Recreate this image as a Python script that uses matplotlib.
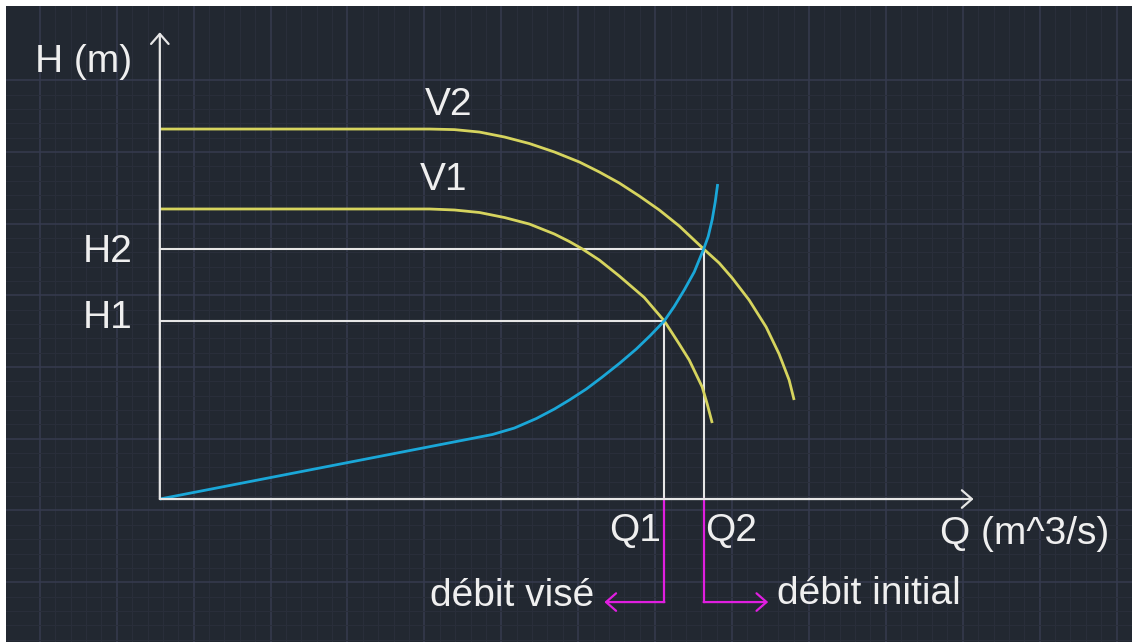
import numpy as np
import matplotlib
matplotlib.use("Agg")
import matplotlib.pyplot as plt

plt.rcParams['font.family'] = ['Liberation Sans', 'DejaVu Sans']

# ---------------- données ----------------
# courbes des pompes (vitesse V1 et V2) : débit Q / hauteur H
q_v2 = [0.000, 3.506, 3.831, 4.156, 4.481, 4.805, 5.130, 5.455, 5.714, 5.974, 6.234,
        6.494, 6.753, 7.071, 7.273, 7.442, 7.662, 7.883, 8.052, 8.182, 8.247]
h_v2 = [5.160, 5.160, 5.152, 5.118, 5.049, 4.958, 4.840, 4.700, 4.561, 4.407, 4.226,
        4.031, 3.808, 3.487, 3.291, 3.082, 2.775, 2.399, 2.022, 1.660, 1.381]

q_v1 = [0.000, 3.506, 3.831, 4.156, 4.481, 4.805, 5.130, 5.325, 5.494, 5.714, 5.974,
        6.299, 6.560, 6.753, 6.883, 7.052, 7.117, 7.182]
h_v1 = [4.045, 4.045, 4.031, 3.996, 3.926, 3.835, 3.696, 3.591, 3.487, 3.333, 3.110,
        2.810, 2.483, 2.162, 1.939, 1.562, 1.325, 1.060]

# courbe du réseau
q_res = [0.000, 4.325, 4.610, 4.896, 5.130, 5.325, 5.545, 5.753, 5.974, 6.195,
         6.377, 6.558, 6.688, 6.818, 6.948, 7.071, 7.130, 7.182, 7.221, 7.253]
h_res = [0.000, 0.900, 0.990, 1.123, 1.255, 1.381, 1.534, 1.702, 1.890, 2.092,
         2.280, 2.483, 2.685, 2.915, 3.166, 3.487, 3.661, 3.898, 4.142, 4.393]

# points de fonctionnement
Q1, Q2 = 6.56, 7.07
H1, H2 = 2.48, 3.49

# ---------------- style ----------------
BG = '#222831'
GRID_MAJ = '#363b4f'
GRID_MIN = '#2a2f3b'
YELLOW = '#d6d45e'
BLUE = '#1aa7d8'
WHITE = '#e6e6e6'
MAGENTA = '#e01ee0'
TXT = '#efefef'
FS = 28

fig = plt.figure(figsize=(11.32, 6.42), dpi=100, facecolor='white')
ax = fig.add_axes([6 / 1132, 0, 1126 / 1132, 636 / 642])
ax.set_facecolor(BG)
ax.set_xlim(-2.0, 12.62)
ax.set_ylim(-1.994, 6.876)

# grille de fond type CAO
ax.set_xticks(np.arange(-1.56, 12.7, 1.0))
ax.set_xticks(np.arange(-1.56, 12.7, 0.2), minor=True)
ax.set_yticks(np.arange(5.84, -2.1, -1.0))
ax.set_yticks(np.arange(5.84, -2.1, -0.2), minor=True)
ax.grid(which='minor', color=GRID_MIN, lw=0.7, zorder=0)
ax.grid(which='major', color=GRID_MAJ, lw=1.1, zorder=0)
ax.tick_params(which='both', length=0, labelbottom=False, labelleft=False)
for s in ax.spines.values():
    s.set_visible(False)
ax.set_axisbelow(True)

# axes avec flèches ouvertes
arr = dict(arrowstyle='->, head_length=0.4, head_width=0.35', color=WHITE,
           lw=1.6, mutation_scale=18, shrinkA=0, shrinkB=0)
ax.annotate('', xy=(10.58, 0), xytext=(0, 0), arrowprops=arr, zorder=4)
ax.annotate('', xy=(0, 6.51), xytext=(0, 0), arrowprops=arr, zorder=4)

# lignes de rappel
ax.plot([0, Q2, Q2], [H2, H2, 0], color=WHITE, lw=1.5, zorder=2)
ax.plot([0, Q1, Q1], [H1, H1, 0], color=WHITE, lw=1.5, zorder=2)

# courbes
for q, h, c in [(q_v2, h_v2, YELLOW), (q_v1, h_v1, YELLOW), (q_res, h_res, BLUE)]:
    ax.plot(q, h, color=c, lw=2.0, zorder=3, solid_capstyle='butt', solid_joinstyle='round')

# renvois magenta
y_low = -1.437
ax.plot([Q1, Q1], [0, y_low], color=MAGENTA, lw=1.6, zorder=3)
ax.plot([Q2, Q2], [0, y_low], color=MAGENTA, lw=1.6, zorder=3)
arr_m = dict(arr, color=MAGENTA)
ax.annotate('', xy=(Q1 - 0.78, y_low), xytext=(Q1, y_low), arrowprops=arr_m)
ax.annotate('', xy=(Q2 + 0.84, y_low), xytext=(Q2, y_low), arrowprops=arr_m)

# textes
kw = dict(color=TXT, fontsize=FS, textcoords='offset pixels')
ax.annotate('H (m)', xy=(-1.62, 5.96), xytext=(0, 0), ha='left', va='baseline', **kw)
ax.annotate('V2', xy=(3.44, 5.36), xytext=(0, 0), ha='left', va='baseline', **kw)
ax.annotate('V1', xy=(3.38, 4.31), xytext=(0, 0), ha='left', va='baseline', **kw)
ax.annotate('H2', xy=(0, H2), xytext=(-27, -13), ha='right', va='baseline', **kw)
ax.annotate('H1', xy=(0, H1), xytext=(-27, -7), ha='right', va='baseline', **kw)
ax.annotate('Q1', xy=(Q1, 0), xytext=(-3, -42), ha='right', va='baseline', **kw)
ax.annotate('Q2', xy=(Q2, 0), xytext=(2, -42), ha='left', va='baseline', **kw)
ax.annotate('Q (m^3/s)', xy=(12.34, -0.63), xytext=(0, 0), ha='right', va='baseline', **kw)
ax.annotate('débit visé', xy=(Q1 - 0.78, y_low), xytext=(-10, -4), ha='right', va='baseline', **kw)
ax.annotate('débit initial', xy=(Q2 + 0.84, y_low), xytext=(9, -2), ha='left', va='baseline', **kw)

fig.savefig('out.png', dpi=100, facecolor='white')
